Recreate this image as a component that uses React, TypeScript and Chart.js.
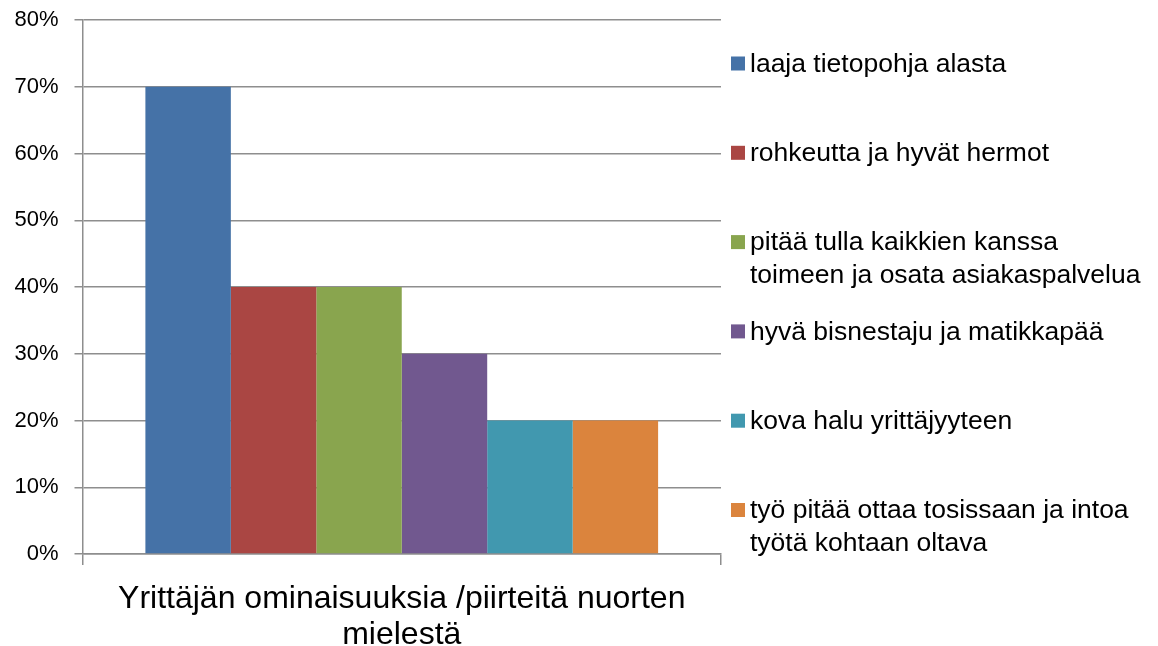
import React, { useEffect, useRef } from "react";
import { Chart, registerables } from "chart.js";

Chart.register(...registerables);

const categoryLines = ["Yrittäjän ominaisuuksia /piirteitä nuorten", "mielestä"];
const seriesLabels: string[][] = [
  ["laaja tietopohja alasta"],
  ["rohkeutta ja hyvät hermot"],
  ["pitää tulla kaikkien kanssa", "toimeen ja osata asiakaspalvelua"],
  ["hyvä bisnestaju ja matikkapää"],
  ["kova halu yrittäjyyteen"],
  ["työ pitää ottaa tosissaan ja intoa", "työtä kohtaan oltava"],
];
const seriesValues = [0.7, 0.4, 0.4, 0.3, 0.2, 0.2];
const seriesColors = ["#4572A7", "#AA4643", "#89A54E", "#71588F", "#4198AF", "#DB843D"];

const FONT = "'Liberation Sans', Arial, sans-serif";

const legendPlugin = {
  id: "customLegend",
  afterDraw(chart: any) {
    const ctx = chart.ctx;
    ctx.save();
    ctx.font = `26.5px ${FONT}`;
    ctx.textBaseline = "middle";
    ctx.textAlign = "left";
    const startY = 63.5;
    const step = 89.3;
    chart.data.datasets.forEach((ds: any, i: number) => {
      const y = startY + i * step;
      ctx.fillStyle = ds.backgroundColor;
      ctx.fillRect(731, y - 7, 14, 14);
      ctx.fillStyle = "#000";
      const lines: string[] = ds.legendLines;
      lines.forEach((ln, j) => ctx.fillText(ln, 750, y + 1 + j * 33));
    });
    ctx.restore();
  },
};

export default function App() {
  const ref = useRef<HTMLCanvasElement>(null);
  useEffect(() => {
    document.body.style.margin = "0";
    const chart = new Chart(ref.current!, {
      type: "bar",
      data: {
        labels: [categoryLines],
        datasets: seriesLabels.map((lines, i) => ({
          label: lines.join(" "),
          legendLines: lines,
          data: [seriesValues[i]],
          backgroundColor: seriesColors[i],
          borderWidth: 0,
          categoryPercentage: 0.803,
          barPercentage: 1,
        })) as any,
      },
      options: {
        animation: false,
        responsive: false,
        layout: { padding: { left: 0, right: 437, top: 20, bottom: 0 } },
        plugins: { legend: { display: false }, tooltip: { enabled: false } },
        scales: {
          x: {
            grid: { drawOnChartArea: false, color: "#8e8e8e", lineWidth: 1.5, tickLength: 11 },
            border: { color: "#8e8e8e", width: 1.5 },
            ticks: { color: "#000", font: { size: 32, family: FONT, lineHeight: 1.1 }, padding: 17 },
            afterFit: (s: any) => { s.height = 92; s.paddingLeft = 0; s.paddingRight = 0; },
          },
          y: {
            min: 0,
            max: 0.8,
            ticks: {
              stepSize: 0.1,
              color: "#000",
              font: { size: 22, family: FONT },
              padding: 16,
              callback: (v: any) => Math.round(Number(v) * 100) + "%",
            },
            grid: { color: "#8e8e8e", lineWidth: 1.5, tickLength: 8 },
            border: { color: "#8e8e8e", width: 1.5 },
            afterFit: (s: any) => { s.width = 82.5; s.paddingTop = 0; s.paddingBottom = 0; },
          },
        },
      },
      plugins: [legendPlugin],
    });
    return () => chart.destroy();
  }, []);
  return <canvas ref={ref} width={1158} height={646} style={{ display: "block" }} />;
}
